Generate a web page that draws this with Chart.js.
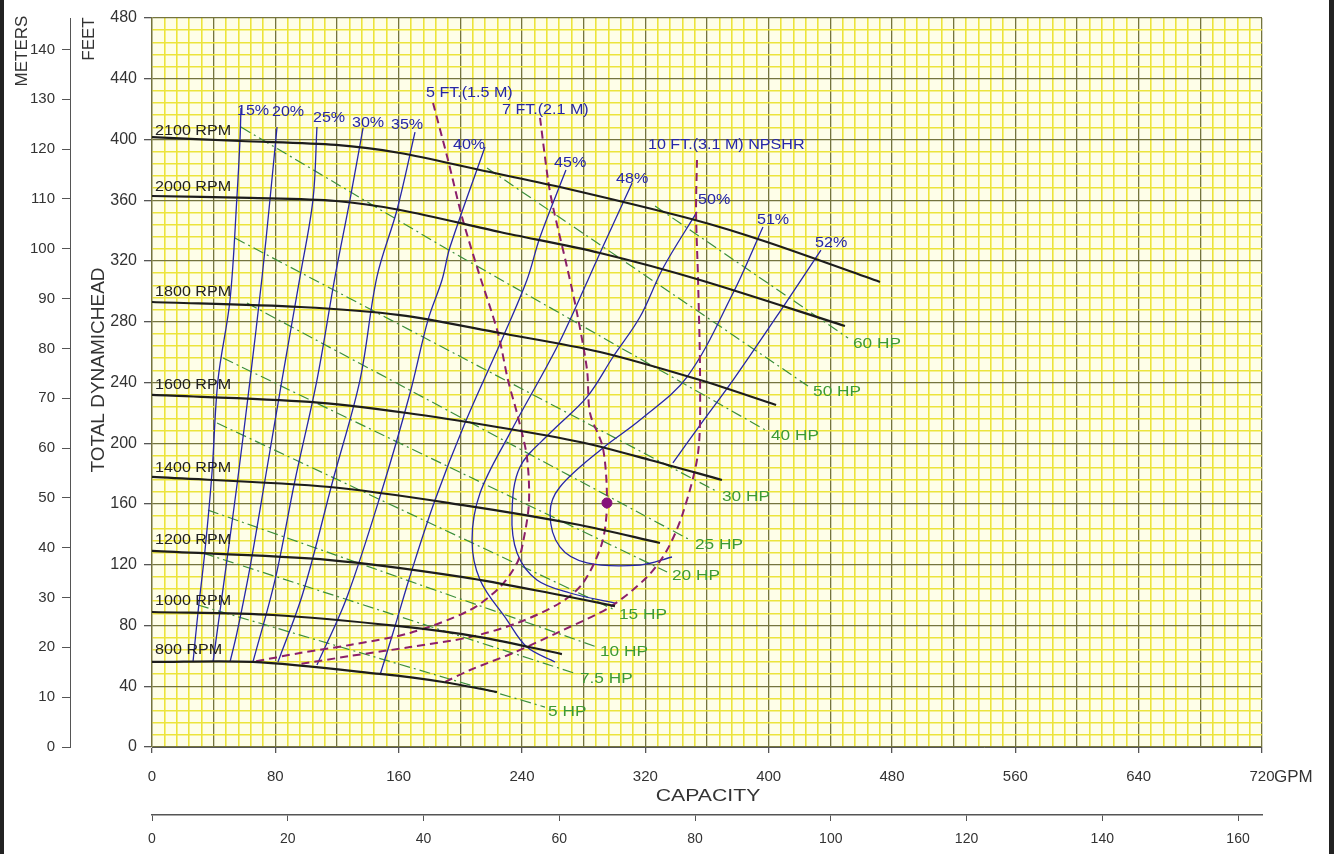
<!DOCTYPE html>
<html>
<head>
<meta charset="utf-8">
<title>Pump performance curves</title>
<script src="https://cdn.jsdelivr.net/npm/chart.js@4.4.1/dist/chart.umd.min.js"></script>
<style>
  html, body { margin: 0; padding: 0; background: #fff; }
  canvas { display: block; }
</style>
</head>
<body>
<canvas id="pump" width="1336" height="854"></canvas>
<script>
// Values: [capacity GPM, total dynamic head ft]

// head / capacity curves per speed
const rpm2100 = [[0,401.6],[57.1,399.0],[119.4,396.4],[160.9,391.1],[212.8,379.9],[264.6,368.7],[352.2,347.0],[398.9,332.5],[472.2,306.2]];
const rpm2000 = [[0,362.8],[63.6,361.5],[119.4,359.5],[160.9,353.6],[225.7,339.1],[290.6,325.3],[355.5,307.5],[449.5,277.2]];
const rpm1800 = [[0,293.0],[96.0,289.7],[160.9,284.4],[225.7,272.6],[290.6,260.1],[355.5,241.6],[404.8,225.2]];
const rpm1600 = [[0,231.8],[102.5,227.2],[165.4,219.9],[223.8,210.7],[277.6,200.8],[323.0,189.0],[369.7,175.8]];
const rpm1400 = [[0,177.8],[115.5,171.2],[201.7,159.3],[277.6,146.2],[329.5,134.3]];
const rpm1200 = [[0,129.1],[115.5,123.1],[201.7,111.9],[264.6,100.1],[300.3,92.8]];
const rpm1000 = [[0,88.9],[78.5,86.9],[158.9,79.7],[212.8,72.4],[265.9,61.2]];
const rpm800  = [[0,56.0],[65.5,56.0],[147.9,48.1],[188.8,42.8],[223.8,36.2]];
const rpmLabels = ['2100 RPM','2000 RPM','1800 RPM','1600 RPM','1400 RPM','1200 RPM','1000 RPM','800 RPM'];
const rpmLabelAt = [[2,405.6],[2,368.7],[2,299.6],[2,238.4],[2,183.7],[2,136.3],[2,96.1],[2,63.9]];

// efficiency contours
const eff15 = [[57.7,420.7],[57.1,400.3],[55.1,362.1],[50.6,294.3],[42.8,241.6],[38.9,180.4],[34.4,129.7],[29.8,88.2],[26.6,56.0]];
const eff20 = [[81.1,408.2],[76.5,360.2],[71.4,309.5],[63.6,241.6],[55.8,177.8],[48.6,123.1],[40.9,65.8],[39.6,56.0]];
const eff25 = [[107.0,408.2],[104.4,360.2],[96.0,309.5],[84.3,241.6],[73.3,175.8],[63.6,118.5],[55.1,75.1],[50.6,56.0]];
const eff30 = [[136.9,407.6],[128.4,360.2],[118.7,309.5],[107.0,241.6],[92.8,175.8],[79.8,110.0],[65.5,56.0]];
const eff35 = [[170.6,404.9],[158.9,353.6],[145.9,309.5],[134.9,241.6],[117.4,175.8],[97.9,101.4],[81.7,56.0]];
const eff40 = [[216.0,395.1],[193.3,329.2],[188.1,307.5],[179.0,281.1],[167.4,233.1],[149.8,171.2],[126.5,98.8],[107.0,54.0]];
const eff45 = [[268.5,379.9],[251.7,335.8],[243.2,307.5],[227.7,270.0],[203.0,213.3],[183.6,162.6],[168.6,116.5],[156.3,75.1],[147.9,47.4]];
const eff48 = [[311.4,371.4],[290.6,325.3],[282.8,307.5],[262.7,263.4],[232.2,206.7],[212.8,167.2],[207.6,136.3],[212.8,110.0],[230.3,83.6],[243.2,65.8],[261.4,56.0]];
const eff50 = [[353.5,352.3],[331.5,315.4],[316.5,283.1],[299.0,256.8],[282.2,230.5],[258.2,206.7],[238.7,184.4],[233.5,154.1],[236.8,127.7],[249.7,109.9],[271.1,101.4],[300.3,94.8]];
const eff51 = [[396.3,342.4],[376.9,298.9],[347.0,243.6],[316.5,215.3],[292.5,196.9],[264.6,171.2],[258.2,154.1],[264.6,131.7],[282.2,121.2],[316.5,119.8],[337.3,125.1]];
const eff52 = [[433.9,327.2],[409.3,289.7],[376.9,241.6],[355.5,212.0],[337.9,187.0]];
const effLabels = ['15%','20%','25%','30%','35%','40%','45%','48%','50%','51%','52%'];
const effLabelAt = [[55.1,418.8],[77.8,418.1],[104.4,414.2],[129.7,410.9],[155.0,409.5],[195.2,396.4],[260.8,384.5],[301.0,374.0],[354.2,360.2],[392.4,347.0],[430.1,331.8]];

// NPSHR curves
const npsh5  = [[182.3,424.0],[192.0,386.5],[201.1,349.0],[210.8,316.0],[224.4,272.6],[230.9,241.6],[237.4,217.3],[243.2,190.9],[244.5,160.7],[240.6,134.3],[236.8,121.2],[225.7,105.3],[206.3,90.2],[167.4,75.1],[128.4,67.2],[96.0,61.9],[65.5,56.0]];
const npsh7  = [[251.7,414.2],[256.9,373.3],[260.1,355.6],[269.2,316.0],[275.7,285.7],[282.2,248.2],[284.1,219.9],[292.5,196.9],[295.1,160.7],[291.9,134.3],[279.6,108.0],[264.6,94.8],[236.8,81.6],[206.3,72.4],[167.4,65.8],[128.4,59.9],[96.0,54.6]];
const npsh10 = [[353.5,386.5],[352.9,352.3],[354.2,307.5],[355.5,241.6],[354.2,193.6],[344.4,154.1],[334.1,129.7],[321.1,111.9],[297.1,92.2],[266.6,77.0],[234.2,61.9],[206.3,50.7],[190.1,42.8]];
const npshLabels = ['5 FT.(1.5 M)','7 FT.(2.1 M)','10 FT.(3.1 M) NPSHR'];
const npshLabelAt = [[177.7,430.6],[227.0,419.4],[321.7,396.4]];
const bestPoint = [[295.1,160.7]];

// power lines
const hp60  = [[326.3,356.2],[451.5,269.3]];
const hp50  = [[217.3,381.2],[425.5,237.7]];
const hp40  = [[57.7,408.2],[186.8,330.5],[398.9,208.1]];
const hp30  = [[53.8,335.1],[367.1,167.9]];
const hp25  = [[61.6,292.3],[349.0,136.3]];
const hp20  = [[46.1,256.1],[334.1,115.2]];
const hp15  = [[42.2,213.3],[300.3,90.2]];
const hp10  = [[36.3,156.0],[288.6,65.8]];
const hp7_5 = [[33.1,127.7],[275.7,48.1]];
const hp5   = [[29.8,93.5],[254.9,26.3]];
const hpLabels = ['60 HP','50 HP','40 HP','30 HP','25 HP','20 HP','15 HP','10 HP','7.5 HP','5 HP'];
const hpLabelAt = [[454.7,265.3],[428.8,233.7],[401.5,204.8],[369.7,164.6],[352.2,133.0],[337.3,112.6],[302.9,86.9],[290.6,62.6],[277.6,44.8],[256.9,23.0]];

// axes
const gpmMax = 720;
const feetMax = 480;
const feetPerMeter = 3.28084;
const gpmPerM3h = 4.40287;

const FONT = '"Liberation Sans", Arial, sans-serif';
Chart.defaults.font.family = FONT;

const COLORS = {
    rpm: '#1c1c1c',
    eff: '#2626a8',
    npsh: '#8c1f6a',
    hp: '#3a8f3a',
    hpText: '#3c9a34',
    minor: '#ece43c',
    major: '#74743e',
    axis: '#555',
    text: '#333'
};

function toXY(points) {
    return points.map(([x, y]) => ({ x, y }));
}

function curve(points, color, width, dash, tension, order) {
    return {
        data: toXY(points),
        showLine: true,
        borderColor: color,
        backgroundColor: color,
        borderWidth: width,
        borderDash: dash,
        pointRadius: 0,
        pointHoverRadius: 0,
        tension: tension,
        fill: false,
        order: order
    };
}

const datasets = [];
[hp60, hp50, hp40, hp30, hp25, hp20, hp15, hp10, hp7_5, hp5].forEach(p =>
    datasets.push(curve(p, COLORS.hp, 1.2, [11, 4, 2, 4], 0, 4)));
[eff15, eff20, eff25, eff30, eff35, eff40, eff45, eff48, eff50, eff51, eff52].forEach(p =>
    datasets.push(curve(p, COLORS.eff, 1.3, [], 0.35, 3)));
[npsh5, npsh7, npsh10].forEach(p =>
    datasets.push(curve(p, COLORS.npsh, 2, [8, 5], 0.3, 2)));
[rpm2100, rpm2000, rpm1800, rpm1600, rpm1400, rpm1200, rpm1000, rpm800].forEach(p =>
    datasets.push(curve(p, COLORS.rpm, 2.2, [], 0.3, 1)));
datasets.push({
    data: toXY(bestPoint),
    showLine: false,
    pointRadius: 5,
    pointBackgroundColor: '#86107a',
    pointBorderColor: '#86107a',
    order: 0
});

function stepTicks(max, step) {
    return scale => {
        const ticks = [];
        for (let v = 0; v <= max + 1e-6; v += step) ticks.push({ value: v });
        scale.ticks = ticks;
    };
}

const gridColor = ctx => (ctx.tick && ctx.tick.value % 40 === 0) ? COLORS.major : COLORS.minor;
const gridWidth = ctx => (ctx.tick && ctx.tick.value % 40 === 0) ? 1.3 : 1.6;

// labels drawn at data positions, plus axis titles
const chartText = {
    id: 'chartText',
    beforeDraw(chart) {
        const { ctx, chartArea: a } = chart;
        ctx.save();
        ctx.fillStyle = '#fefee8';
        ctx.fillRect(a.left, a.top, a.right - a.left, a.bottom - a.top);
        ctx.restore();
    },
    afterDatasetsDraw(chart) {
        const { ctx, scales: { x, y } } = chart;
        const put = (text, at, color, size) => {
            ctx.save();
            ctx.font = size + 'px ' + FONT;
            ctx.fillStyle = color;
            ctx.textAlign = 'left';
            ctx.textBaseline = 'middle';
            ctx.translate(x.getPixelForValue(at[0]), y.getPixelForValue(at[1]));
            ctx.scale(1.15, 1);
            ctx.fillText(text, 0, 0);
            ctx.restore();
        };
        rpmLabels.forEach((t, i) => put(t, rpmLabelAt[i], '#222', 14));
        effLabels.forEach((t, i) => put(t, effLabelAt[i], COLORS.eff, 14));
        npshLabels.forEach((t, i) => put(t, npshLabelAt[i], COLORS.eff, 14));
        hpLabels.forEach((t, i) => put(t, hpLabelAt[i], COLORS.hpText, 15));
    },
    afterDraw(chart) {
        const { ctx, chartArea: a } = chart;
        ctx.save();
        ctx.fillStyle = COLORS.text;
        ctx.textAlign = 'center';
        ctx.textBaseline = 'middle';

        const vertical = (text, cx, cy, size) => {
            ctx.save();
            ctx.font = size + 'px ' + FONT;
            ctx.translate(cx, cy);
            ctx.rotate(-Math.PI / 2);
            ctx.fillText(text, 0, 0);
            ctx.restore();
        };
        vertical('METERS', 22, 51, 17);
        vertical('FEET', 89, 39, 17);
        vertical('TOTAL DYNAMICHEAD', 99, 370, 19);

        ctx.save();
        ctx.font = '17px ' + FONT;
        ctx.translate((a.left + a.right) / 2 + 1, 796);
        ctx.scale(1.25, 1);
        ctx.fillText('CAPACITY', 0, 0);
        ctx.restore();

        ctx.textAlign = 'left';
        ctx.font = '17px ' + FONT;
        ctx.fillText('GPM', a.right + 12, 777);

        // page frame
        ctx.fillStyle = '#222';
        ctx.fillRect(0, 0, 4, 854);
        ctx.fillRect(1329, 0, 5, 854);
        ctx.restore();
    }
};

new Chart(document.getElementById('pump'), {
    type: 'scatter',
    data: { datasets },
    options: {
        responsive: false,
        animation: false,
        devicePixelRatio: 1,
        layout: { padding: { left: 0, top: 18, right: 74, bottom: 0 } },
        plugins: {
            legend: { display: false },
            tooltip: { enabled: false }
        },
        scales: {
            x: {
                type: 'linear',
                position: 'bottom',
                weight: 0,
                min: 0,
                max: gpmMax,
                afterBuildTicks: stepTicks(gpmMax, 8),
                afterFit: s => { s.height = 68; },
                ticks: {
                    autoSkip: false,
                    maxRotation: 0,
                    padding: 15,
                    color: COLORS.text,
                    font: { size: 15 },
                    callback: v => (v % 80 === 0 ? String(v) : '')
                },
                grid: {
                    color: gridColor,
                    lineWidth: gridWidth,
                    tickLength: 6,
                    tickColor: ctx => (ctx.tick && ctx.tick.value % 80 === 0) ? COLORS.axis : 'rgba(0,0,0,0)'
                },
                border: { color: COLORS.axis, width: 1 }
            },
            x2: {
                type: 'linear',
                position: 'bottom',
                weight: 1,
                min: 0,
                max: gpmMax / gpmPerM3h,
                afterBuildTicks: stepTicks(160, 20),
                afterFit: s => { s.height = 39; },
                ticks: {
                    autoSkip: false,
                    maxRotation: 0,
                    padding: 10,
                    color: COLORS.text,
                    font: { size: 14 }
                },
                grid: { drawOnChartArea: false, tickLength: 6, color: COLORS.axis },
                border: { color: COLORS.axis, width: 1.5 }
            },
            y: {
                type: 'linear',
                position: 'left',
                weight: 0,
                min: 0,
                max: feetMax,
                afterBuildTicks: stepTicks(feetMax, 8),
                afterFit: s => { s.width = 82; },
                ticks: {
                    autoSkip: false,
                    padding: 7,
                    color: COLORS.text,
                    font: { size: 16 },
                    callback: v => (v % 40 === 0 ? String(v) : '')
                },
                grid: {
                    color: gridColor,
                    lineWidth: gridWidth,
                    tickLength: 8,
                    tickColor: ctx => (ctx.tick && ctx.tick.value % 40 === 0) ? COLORS.axis : 'rgba(0,0,0,0)'
                },
                border: { color: COLORS.major, width: 1.3 }
            },
            ym: {
                type: 'linear',
                position: 'left',
                weight: 1,
                min: 0,
                max: feetMax / feetPerMeter,
                afterBuildTicks: stepTicks(140, 10),
                afterFit: s => { s.width = 70; },
                ticks: {
                    autoSkip: false,
                    padding: 7,
                    color: COLORS.text,
                    font: { size: 15 }
                },
                grid: { drawOnChartArea: false, tickLength: 8, color: COLORS.axis },
                border: { color: COLORS.axis, width: 1 }
            }
        }
    },
    plugins: [chartText]
});
</script>
</body>
</html>
